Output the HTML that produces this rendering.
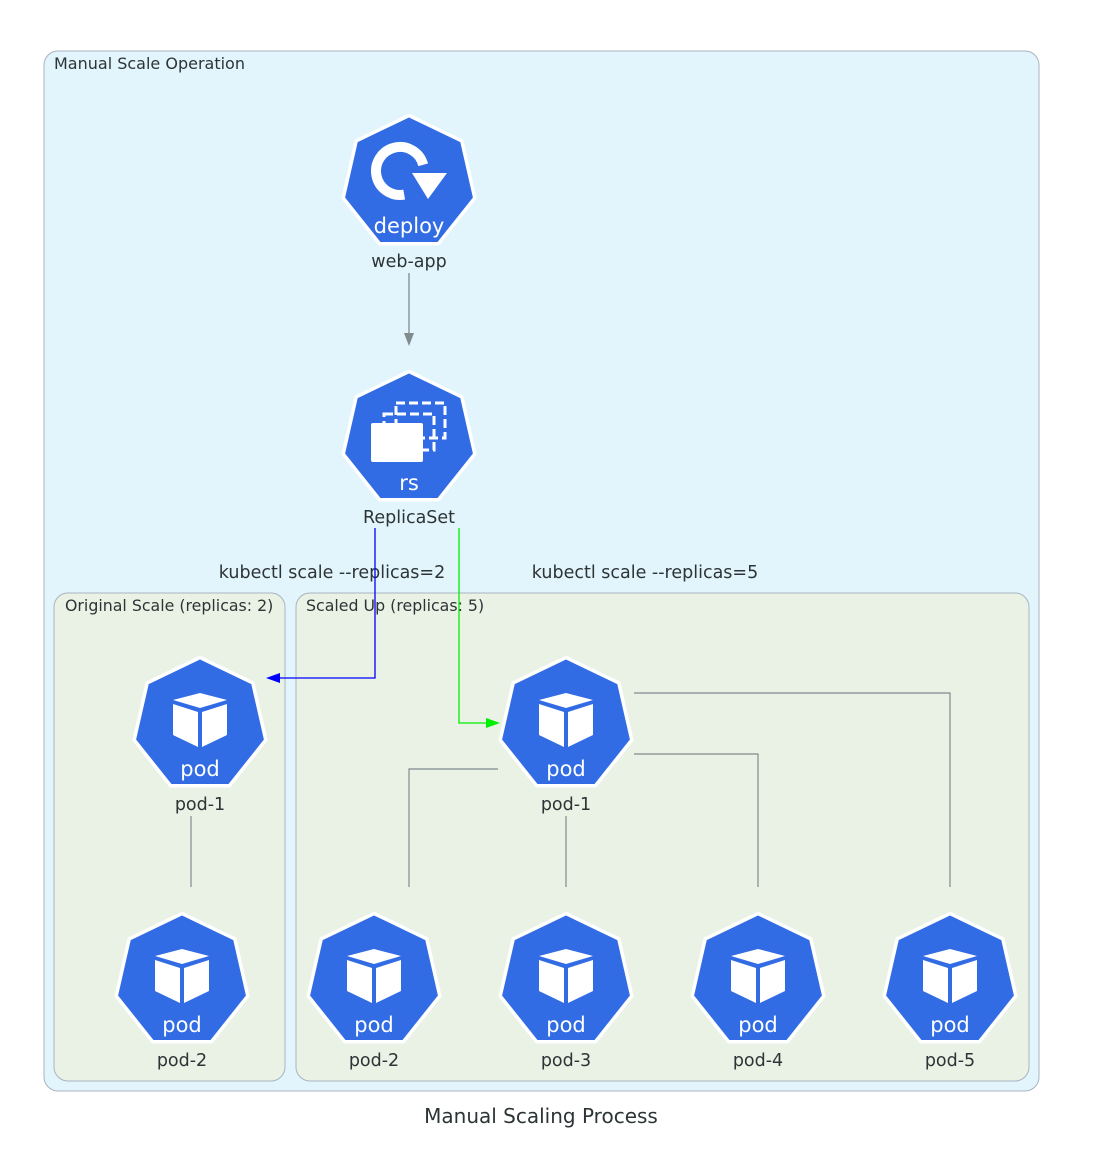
<!DOCTYPE html>
<html><head><meta charset="utf-8"><style>
html,body{margin:0;padding:0;background:#fff}
svg{display:block;font-family:"DejaVu Sans","Liberation Sans",sans-serif}
</style></head><body>
<svg width="1096" height="1172" viewBox="0 0 1096 1172" xmlns="http://www.w3.org/2000/svg">
<defs>
<polygon id="hep" points="0,-67.5 52.8,-42.1 65.8,15 29.3,60.8 -29.3,60.8 -65.8,15 -52.8,-42.1" fill="#326ce5" stroke="#fff" stroke-width="3.5" stroke-linejoin="round"/>
<g id="pod">
<use href="#hep"/>
<polygon points="0,-32 27,-25 0,-17 -27,-25" fill="#fff"/>
<polygon points="-27,-21 -2,-13 -2,22 -27,10" fill="#fff"/>
<polygon points="27,-21 2,-13 2,22 27,10" fill="#fff"/>
<text x="0" y="51" font-size="21" fill="#fff" text-anchor="middle">pod</text>
</g>
</defs>
<rect x="44" y="51" width="995" height="1040" rx="14" fill="#e2f4fc" stroke="#a8b4c0" stroke-width="1"/>
<text x="54" y="69" font-size="16" fill="#2d3436">Manual Scale Operation</text>
<rect x="54" y="593" width="231" height="488" rx="14" fill="#eaf2e6" stroke="#a8b4c0"/>
<text x="65" y="611" font-size="15.8" fill="#2d3436">Original Scale (replicas: 2)</text>
<rect x="296" y="593" width="733" height="488" rx="14" fill="#eaf2e6" stroke="#a8b4c0"/>
<text x="306" y="611" font-size="15.8" fill="#2d3436">Scaled Up (replicas: 5)</text>

<!-- deploy -->
<g transform="translate(409,183)">
<use href="#hep"/>
<path d="M-4.8,11.6 A24,24 0 1 1 14.2,-18.2" fill="none" stroke="#fff" stroke-width="10"/>
<polygon points="3,-10 38,-10 19,16" fill="#fff"/>
<text x="0" y="50" font-size="21" fill="#fff" text-anchor="middle">deploy</text>
</g>
<text x="409" y="267" font-size="17.5" fill="#2d3436" text-anchor="middle">web-app</text>
<line x1="409" y1="273" x2="409" y2="334" stroke="#7f8c8d" stroke-width="1.3"/>
<polygon points="404,333 414,333 409,346" fill="#7f8c8d"/>

<!-- rs -->
<g transform="translate(409,439)">
<use href="#hep"/>
<rect x="-13" y="-36" width="49" height="35" fill="none" stroke="#fff" stroke-width="3" stroke-dasharray="9,4"/>
<rect x="-25" y="-25" width="50" height="36" fill="none" stroke="#fff" stroke-width="3" stroke-dasharray="9,4"/>
<rect x="-38" y="-16" width="52" height="39" rx="2" fill="#fff"/>
<text x="0" y="51" font-size="21" fill="#fff" text-anchor="middle">rs</text>
</g>
<text x="409" y="523" font-size="17.5" fill="#2d3436" text-anchor="middle">ReplicaSet</text>

<!-- labels -->
<text x="332" y="578" font-size="17.5" fill="#2d3436" text-anchor="middle">kubectl scale --replicas=2</text>
<text x="645" y="578" font-size="17.5" fill="#2d3436" text-anchor="middle">kubectl scale --replicas=5</text>

<!-- edges -->
<polyline points="375,528 375,678 278,678" fill="none" stroke="#0000ff" stroke-width="1.3"/>
<polygon points="280,673 280,683 266,678" fill="#0000ff"/>
<polyline points="459,528 459,723 488,723" fill="none" stroke="#00ee00" stroke-width="1.3"/>
<polygon points="486,718 486,728 500,723" fill="#00ee00"/>
<g fill="none" stroke="#7f8c8d" stroke-width="1.2">
<line x1="191" y1="816" x2="191" y2="887"/>
<polyline points="498,769 409,769 409,887"/>
<line x1="566" y1="816" x2="566" y2="887"/>
<polyline points="634,754 758,754 758,887"/>
<polyline points="634,693 950,693 950,887"/>
</g>

<!-- pods -->
<use href="#pod" x="200" y="725"/>
<text x="200" y="810" font-size="17.5" fill="#2d3436" text-anchor="middle">pod-1</text>
<use href="#pod" x="182" y="981"/>
<text x="182" y="1066" font-size="17.5" fill="#2d3436" text-anchor="middle">pod-2</text>
<use href="#pod" x="566" y="725"/>
<text x="566" y="810" font-size="17.5" fill="#2d3436" text-anchor="middle">pod-1</text>
<use href="#pod" x="374" y="981"/>
<text x="374" y="1066" font-size="17.5" fill="#2d3436" text-anchor="middle">pod-2</text>
<use href="#pod" x="566" y="981"/>
<text x="566" y="1066" font-size="17.5" fill="#2d3436" text-anchor="middle">pod-3</text>
<use href="#pod" x="758" y="981"/>
<text x="758" y="1066" font-size="17.5" fill="#2d3436" text-anchor="middle">pod-4</text>
<use href="#pod" x="950" y="981"/>
<text x="950" y="1066" font-size="17.5" fill="#2d3436" text-anchor="middle">pod-5</text>

<text x="541" y="1123" font-size="20" fill="#2d3436" text-anchor="middle">Manual Scaling Process</text>
</svg>
</body></html>
